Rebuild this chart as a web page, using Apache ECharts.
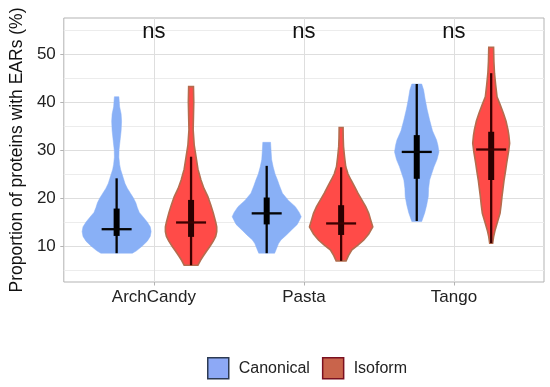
<!DOCTYPE html>
<html><head><meta charset="utf-8">
<script src="https://cdn.jsdelivr.net/npm/echarts@6/dist/echarts.min.js"></script>
<style>html,body{margin:0;padding:0;background:#fff}#c{width:550px;height:387px}</style>
</head><body><div id="c"></div>
<script>
const categories = ['ArchCandy', 'Pasta', 'Tango'];
const groups = ['Canonical', 'Isoform'];
const yTicks = [10, 20, 30, 40, 50];
const yMinorTicks = [5, 15, 25, 35, 45, 55];
const sigLabels = ['ns', 'ns', 'ns'];

// Violin density profiles: y values (%) and half-widths (category units)
const archCanonicalY = [8.5, 9, 10, 11, 12, 13, 14, 15, 16, 17, 18, 19, 20, 21, 22, 23, 24, 25, 26, 27, 28.5, 30, 32, 34, 36, 37.5, 39, 41.1];
const archCanonicalW = [0.105, 0.132, 0.171, 0.204, 0.224, 0.230, 0.224, 0.204, 0.178, 0.151, 0.138, 0.128, 0.112, 0.092, 0.072, 0.056, 0.046, 0.036, 0.026, 0.020, 0.015, 0.016, 0.023, 0.030, 0.033, 0.030, 0.020, 0.015];
const pastaCanonicalY = [8.5, 9.5, 10.5, 11.25, 12.3, 13.3, 14.5, 16.1, 17, 18.2, 19.5, 21, 22.5, 23.75, 25, 26.5, 28, 29.4, 31.6];
const pastaCanonicalW = [0.053, 0.066, 0.079, 0.095, 0.132, 0.164, 0.204, 0.230, 0.217, 0.191, 0.145, 0.105, 0.086, 0.072, 0.056, 0.043, 0.033, 0.030, 0.026];
const tangoCanonicalY = [15.1, 16.9, 18.5, 20.3, 22, 23.75, 25, 26.5, 28, 29.6, 31, 32.1, 34, 36.25, 38.5, 40.4, 42.5, 43.75];
const tangoCanonicalW = [0.033, 0.053, 0.066, 0.077, 0.079, 0.086, 0.099, 0.115, 0.135, 0.148, 0.141, 0.132, 0.105, 0.086, 0.069, 0.057, 0.046, 0.033];

const archIsoformY = [6.0, 7, 7.8, 9, 9.9, 11, 12, 13, 14, 15, 16.9, 18.5, 20.3, 22, 23.75, 26, 28.6, 31, 34.2, 37, 40, 43.2];
const archIsoformW = [0.046, 0.063, 0.079, 0.105, 0.125, 0.148, 0.164, 0.171, 0.171, 0.164, 0.148, 0.132, 0.112, 0.086, 0.066, 0.046, 0.033, 0.021, 0.014, 0.016, 0.018, 0.016];
const pastaIsoformY = [6.9, 8, 9.2, 10.2, 11.25, 12.5, 14, 15.4, 16.8, 18.2, 19.6, 21, 22.4, 23.75, 25, 26.5, 28.5, 30.7, 32.5, 34.7];
const pastaIsoformW = [0.033, 0.049, 0.072, 0.112, 0.151, 0.184, 0.211, 0.197, 0.184, 0.164, 0.138, 0.112, 0.089, 0.066, 0.046, 0.031, 0.023, 0.016, 0.014, 0.013];
const tangoIsoformY = [10.6, 11.9, 13.3, 14.7, 16.8, 18.5, 20.3, 22, 23.75, 25.5, 27.2, 29.5, 31.4, 33, 34.2, 36, 37.6, 39.5, 41.1, 43.5, 46, 48.5, 51.4];
const tangoIsoformW = [0.010, 0.016, 0.026, 0.039, 0.059, 0.066, 0.072, 0.079, 0.086, 0.095, 0.103, 0.115, 0.123, 0.118, 0.112, 0.099, 0.082, 0.059, 0.039, 0.030, 0.022, 0.018, 0.016];

// Box stats: [lower whisker, Q1, median, Q3, upper whisker]
const canonicalBox = [[8.5, 12.1, 13.5, 17.8, 24.1], [8.5, 14.5, 16.8, 20.1, 26.7], [15.2, 24.0, 29.6, 33.1, 43.75]];
const isoformBox = [[6.0, 11.9, 14.9, 19.6, 28.6], [6.9, 12.3, 14.7, 18.5, 26.4], [10.6, 23.75, 30.1, 33.8, 46.0]];

const canonicalY = [archCanonicalY, pastaCanonicalY, tangoCanonicalY];
const canonicalW = [archCanonicalW, pastaCanonicalW, tangoCanonicalW];
const isoformY = [archIsoformY, pastaIsoformY, tangoIsoformY];
const isoformW = [archIsoformW, pastaIsoformW, tangoIsoformW];

const FONT = 'Liberation Sans, Arial, Helvetica, sans-serif';
const DODGE = 0.248;

function makeRender(profY, profW, boxes, offset, st) {
  return function (params, api) {
    const i = params.dataIndex;
    const x = api.value(0) + offset;
    const ys = profY[i], ws = profW[i];
    const pts = [];
    for (let k = 0; k < ys.length; k++) pts.push(api.coord([x + ws[k], ys[k]]));
    for (let k = ys.length - 1; k >= 0; k--) pts.push(api.coord([x - ws[k], ys[k]]));
    const b = boxes[i];
    const pLow = api.coord([x, b[0]]), pQ1 = api.coord([x, b[1]]), pMed = api.coord([x, b[2]]),
          pQ3 = api.coord([x, b[3]]), pHigh = api.coord([x, b[4]]);
    return {
      type: 'group',
      children: [
        { type: 'polygon', shape: { points: pts }, style: { fill: st.fill, stroke: st.stroke, lineWidth: st.strokeWidth } },
        { type: 'line', shape: { x1: pLow[0], y1: pLow[1], x2: pHigh[0], y2: pHigh[1] }, style: { stroke: st.line, lineWidth: 2.3 } },
        { type: 'rect', shape: { x: pQ3[0] - 3, y: pQ3[1], width: 6, height: pQ1[1] - pQ3[1] }, style: { fill: st.box } },
        { type: 'line', shape: { x1: pMed[0] - 15, y1: pMed[1], x2: pMed[0] + 15, y2: pMed[1] }, style: { stroke: st.line, lineWidth: 2.3 } }
      ]
    };
  };
}

const chart = echarts.init(document.getElementById('c'), null, { renderer: 'canvas' });
const option = {
  animation: false,
  grid: { left: 58, right: 6, top: 18, bottom: 105, show: true, borderColor: '#b3b3b3', borderWidth: 1, backgroundColor: 'transparent' },
  legend: {
    left: 207, top: 357, padding: 0, itemWidth: 21, itemHeight: 21, itemGap: 12, icon: 'rect',
    textStyle: { fontSize: 16, color: '#222', fontFamily: FONT, padding: [0, 0, 0, 5] },
    data: [
      { name: groups[0], itemStyle: { color: '#8DA9F6', borderColor: '#2C3A52', borderWidth: 1.5 } },
      { name: groups[1], itemStyle: { color: '#C9644B', borderColor: '#7A1020', borderWidth: 1.5 } }
    ]
  },
  xAxis: {
    type: 'value', min: 0.4, max: 3.6,
    axisLine: { show: false },
    axisTick: { show: true, length: 3.5, lineStyle: { color: '#b3b3b3' }, customValues: [1, 2, 3] },
    axisLabel: { customValues: [1, 2, 3], formatter: v => categories[Math.round(v) - 1], fontSize: 17, color: '#222', fontFamily: FONT, margin: 7 },
    splitLine: { show: true, lineStyle: { color: '#dedede', width: 1 } }
  },
  yAxis: [
    {
      type: 'value', min: 2.5, max: 57.5,
      name: 'Proportion of proteins with EARs (%)', nameLocation: 'middle', nameGap: 35,
      nameTextStyle: { fontSize: 17.5, color: '#111', fontFamily: FONT },
      axisLine: { show: false },
      axisTick: { show: true, length: 3.5, lineStyle: { color: '#b3b3b3' }, customValues: yTicks },
      axisLabel: { customValues: yTicks, fontSize: 17, color: '#222', fontFamily: FONT, margin: 8 },
      splitLine: { show: true, lineStyle: { color: '#dedede', width: 1 } }
    },
    {
      type: 'value', min: 2.5, max: 57.5, position: 'left',
      axisLine: { show: false },
      axisTick: { show: false, customValues: yMinorTicks },
      axisLabel: { show: false, customValues: yMinorTicks },
      splitLine: { show: true, lineStyle: { color: '#ececec', width: 1 } }
    }
  ],
  series: [
    {
      name: groups[0], type: 'custom', yAxisIndex: 0, z: 3,
      itemStyle: { color: '#8DA9F6', borderColor: '#2C3A52' },
      renderItem: makeRender(canonicalY, canonicalW, canonicalBox, -DODGE,
        { fill: '#89B0F6', stroke: '#89B0F6', strokeWidth: 0.5, line: '#050505', box: '#000' }),
      data: categories.map((c, i) => [i + 1, canonicalBox[i][2]])
    },
    {
      name: groups[1], type: 'custom', yAxisIndex: 0, z: 3,
      itemStyle: { color: '#C9644B', borderColor: '#7A1020' },
      renderItem: makeRender(isoformY, isoformW, isoformBox, DODGE,
        { fill: '#FF4B48', stroke: '#B46C4E', strokeWidth: 1.6, line: '#3d0000', box: '#2a0000' }),
      data: categories.map((c, i) => [i + 1, isoformBox[i][2]])
    },
    {
      name: 'sig', type: 'custom', yAxisIndex: 0, z: 4, silent: true,
      renderItem: function (params, api) {
        const p = api.coord([api.value(0), 54.6]);
        return { type: 'text', x: p[0], y: p[1], style: { text: sigLabels[params.dataIndex], fontSize: 22, fontFamily: FONT, fill: '#111', align: 'center', verticalAlign: 'middle' } };
      },
      data: categories.map((c, i) => [i + 1])
    }
  ]
};
chart.setOption(option);
</script>
</body></html>
